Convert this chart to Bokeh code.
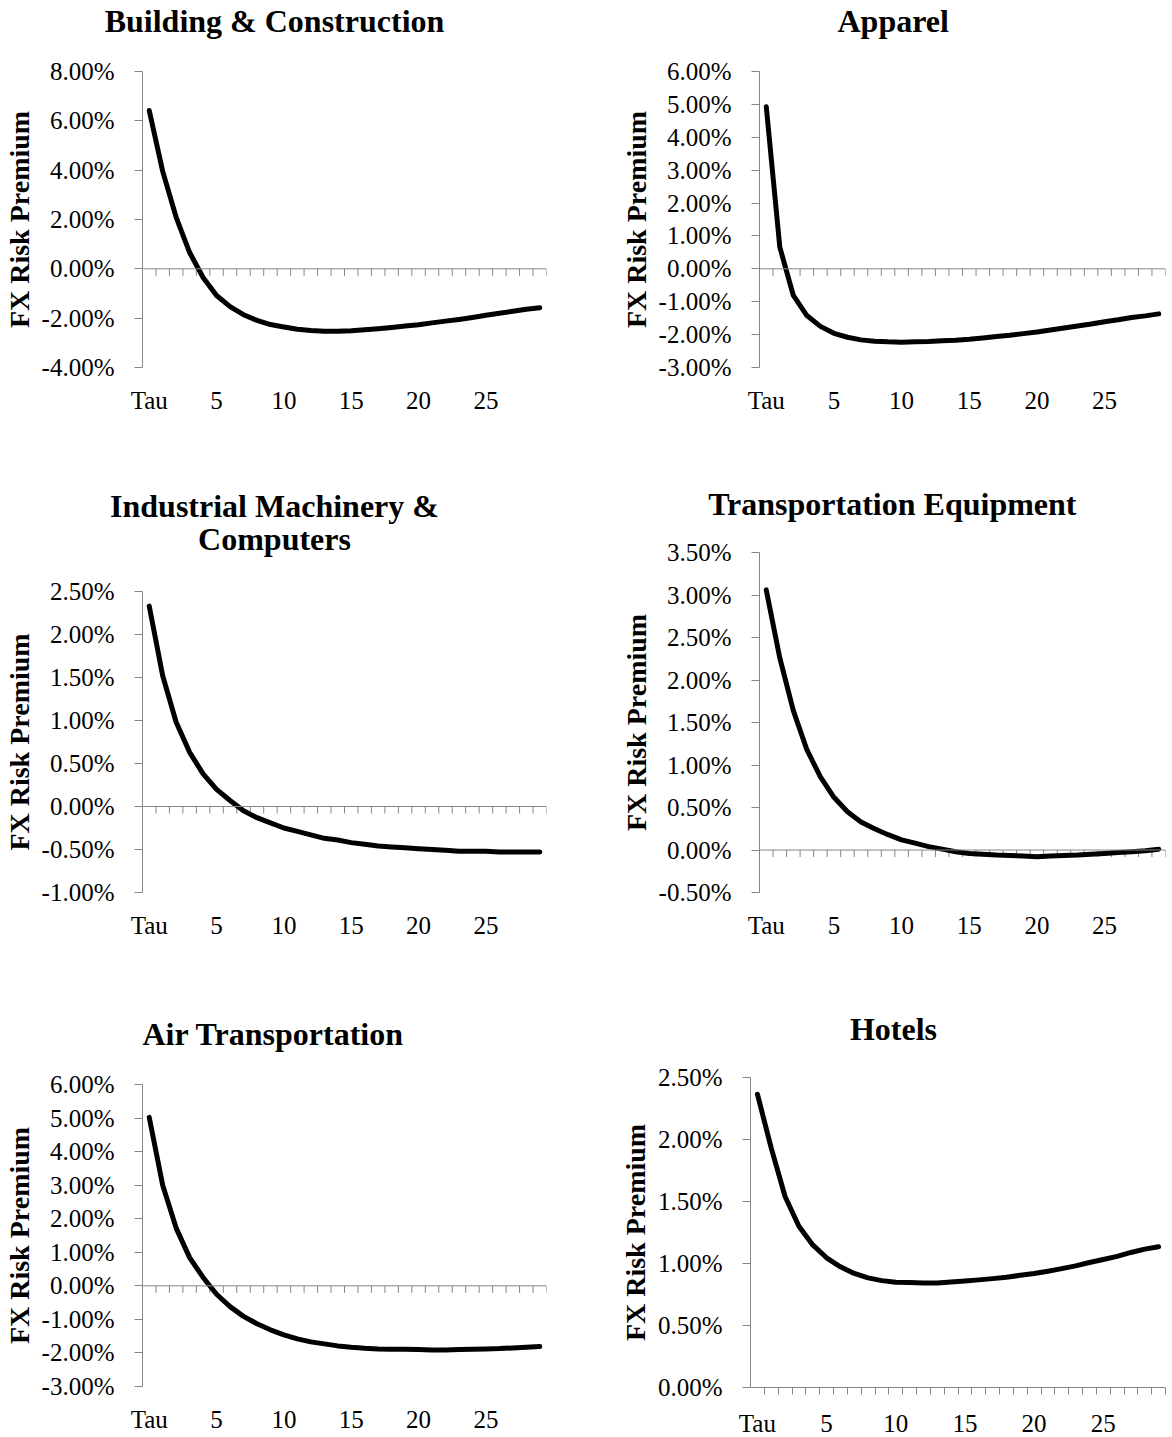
from bokeh.plotting import figure
from bokeh.models import Range1d, FixedTicker, PrintfTickFormatter, Span, Title
from bokeh.layouts import column, row
from bokeh.embed import file_html
from bokeh.resources import INLINE

# ---------------- data (FX risk premium, in %) ----------------
tau_labels = ["Tau"] + [str(i) for i in range(1, 30)]
label_positions = [0, 5, 10, 15, 20, 25]

building = [6.42, 3.95, 2.09, 0.66, -0.35, -1.08, -1.53, -1.86, -2.09, -2.26,
            -2.36, -2.45, -2.50, -2.53, -2.53, -2.51, -2.47, -2.43, -2.38, -2.32,
            -2.27, -2.19, -2.12, -2.05, -1.97, -1.88, -1.80, -1.72, -1.64, -1.58]
apparel = [4.93, 0.66, -0.81, -1.42, -1.75, -1.96, -2.08, -2.16, -2.20, -2.22,
           -2.23, -2.22, -2.21, -2.19, -2.17, -2.14, -2.10, -2.06, -2.02, -1.97,
           -1.92, -1.86, -1.80, -1.74, -1.68, -1.61, -1.55, -1.48, -1.43, -1.37]
industrial = [2.33, 1.52, 0.98, 0.63, 0.38, 0.20, 0.07, -0.05, -0.13, -0.19,
              -0.25, -0.29, -0.33, -0.37, -0.39, -0.42, -0.44, -0.46, -0.47, -0.48,
              -0.49, -0.50, -0.51, -0.52, -0.52, -0.52, -0.53, -0.53, -0.53, -0.53]
transport = [3.06, 2.26, 1.64, 1.18, 0.86, 0.62, 0.45, 0.33, 0.25, 0.18,
             0.12, 0.08, 0.04, 0.01, -0.02, -0.04, -0.05, -0.06, -0.065, -0.07,
             -0.08, -0.07, -0.065, -0.06, -0.05, -0.04, -0.03, -0.02, -0.01, 0.01]
air = [5.02, 3.00, 1.72, 0.84, 0.25, -0.25, -0.62, -0.91, -1.13, -1.31,
       -1.46, -1.58, -1.67, -1.73, -1.79, -1.83, -1.86, -1.88, -1.89, -1.89,
       -1.90, -1.91, -1.91, -1.90, -1.89, -1.88, -1.87, -1.85, -1.83, -1.81]
hotels = [2.365, 1.93, 1.54, 1.30, 1.15, 1.046, 0.973, 0.92, 0.884, 0.862,
          0.849, 0.846, 0.843, 0.843, 0.851, 0.859, 0.868, 0.878, 0.889, 0.905,
          0.919, 0.938, 0.959, 0.981, 1.008, 1.032, 1.057, 1.089, 1.116, 1.135]

yticks_building = [-4, -2, 0, 2, 4, 6, 8]
yticks_apparel = [-3, -2, -1, 0, 1, 2, 3, 4, 5, 6]
yticks_industrial = [-1.0, -0.5, 0.0, 0.5, 1.0, 1.5, 2.0, 2.5]
yticks_transport = [-0.5, 0.0, 0.5, 1.0, 1.5, 2.0, 2.5, 3.0, 3.5]
yticks_air = [-3, -2, -1, 0, 1, 2, 3, 4, 5, 6]
yticks_hotels = [0.0, 0.5, 1.0, 1.5, 2.0, 2.5]

y_title = "FX Risk Premium"

# ---------------- style ----------------
FONT = "Liberation Serif"
GRAY = "#868686"
TITLE_SIZE = 32
TICK_SIZE = 25
YLAB_SIZE = 28
TICK_LEN = 7

BOLD_W = {'B': .667, 'u': .556, 'i': .278, 'l': .278, 'd': .556, 'n': .556, 'g': .5,
          ' ': .25, '&': .833, 'C': .722, 'o': .5, 's': .389, 't': .333, 'r': .444,
          'c': .444, 'A': .722, 'p': .556, 'a': .5, 'e': .444, 'I': .389, 'M': .944,
          'h': .556, 'y': .5, 'm': .833, 'T': .667, 'q': .556, 'E': .667, 'H': .778}


def text_width(s, size):
    return sum(BOLD_W.get(ch, 0.5) for ch in s) * size


def make_panel(title_lines, values, yticks, frame_w, frame_h, bl, br, bt, bb,
               title_center, standoffs, spacer=None):
    n = len(values)
    xs = list(range(n))
    ymin, ymax = yticks[0], yticks[-1]
    p = figure(frame_width=frame_w, frame_height=frame_h, title=None,
               x_range=Range1d(-0.5, n - 0.5), y_range=Range1d(ymin, ymax),
               output_backend="svg", toolbar_location=None, tools="",
               min_border_left=bl, min_border_right=br,
               min_border_top=bt, min_border_bottom=bb)
    p.frame_align = False
    p.outline_line_color = None
    p.xgrid.visible = False
    p.ygrid.visible = False
    p.background_fill_color = "white"
    p.border_fill_color = "white"

    # optional invisible spacer between frame and title
    if spacer is not None:
        p.add_layout(Title(text=" ", text_font_size="1px", standoff=spacer,
                           text_color="white"), "above")
    # titles: nearest to frame first
    for text, so in zip(reversed(title_lines), reversed(standoffs)):
        w = text_width(text, TITLE_SIZE)
        t = Title(text=text, align="left", offset=title_center - w / 2, standoff=so,
                  text_font=FONT, text_font_size=f"{TITLE_SIZE}px",
                  text_font_style="bold", text_color="black")
        p.add_layout(t, "above")

    # y axis
    ya = p.yaxis[0]
    ya.ticker = FixedTicker(ticks=yticks)
    ya.formatter = PrintfTickFormatter(format="%.2f%%")
    ya.major_label_text_font = FONT
    ya.major_label_text_font_size = f"{TICK_SIZE}px"
    ya.major_label_text_color = "black"
    ya.major_label_standoff = 20
    ya.major_tick_out = 8
    ya.major_tick_in = 0
    ya.major_tick_line_color = GRAY
    ya.minor_tick_line_color = None
    ya.axis_line_color = GRAY
    ya.axis_label = y_title
    ya.axis_label_text_font = FONT
    ya.axis_label_text_font_style = "bold"
    ya.axis_label_text_font_size = f"{YLAB_SIZE}px"
    ya.axis_label_text_color = "black"
    ya.axis_label_standoff = 4

    # x axis (category labels every 5)
    xa = p.xaxis[0]
    bounds = [i - 0.5 for i in range(1, n + 1)]
    xa.ticker = FixedTicker(ticks=label_positions, minor_ticks=bounds)
    xa.major_label_overrides = {i: tau_labels[i] for i in label_positions}
    xa.major_label_text_font = FONT
    xa.major_label_text_font_size = f"{TICK_SIZE}px"
    xa.major_label_text_color = "black"
    xa.major_label_standoff = 15
    xa.major_tick_line_color = None
    xa.major_tick_out = 0
    xa.major_tick_in = 0

    if ymin < 0:
        xa.axis_line_color = None
        xa.minor_tick_line_color = None
        p.add_layout(Span(location=0, dimension="width", line_color=GRAY, line_width=1))
        tl = TICK_LEN * (ymax - ymin) / frame_h
        p.segment(x0=bounds, y0=[0] * len(bounds), x1=bounds, y1=[-tl] * len(bounds),
                  line_color=GRAY, line_width=1)
    else:
        xa.axis_line_color = GRAY
        xa.minor_tick_line_color = GRAY
        xa.minor_tick_out = TICK_LEN
        xa.minor_tick_in = 0

    p.line(xs, values, line_color="black", line_width=5,
           line_join="round", line_cap="round")
    return p


p1 = make_panel(["Building & Construction"], building, yticks_building,
                404, 296, 140, 41, 71, 72, 277 - 145, [0], spacer=30)
p2 = make_panel(["Apparel"], apparel, yticks_apparel,
                406, 296, 172, 2, 71, 72, 896 - 762, [0], spacer=30)
p3 = make_panel(["Industrial Machinery &", "Computers"], industrial, yticks_industrial,
                404, 301, 140, 41, 152, 72, 277 - 145, [-10, 0], spacer=32)
p4 = make_panel(["Transportation Equipment"], transport, yticks_transport,
                406, 340, 172, 2, 113, 72, 896 - 762, [62])
p5 = make_panel(["Air Transportation"], air, yticks_air,
                404, 302, 140, 41, 120, 10, 277 - 145, [66])
p6 = make_panel(["Hotels"], hotels, yticks_hotels,
                415, 310, 163, 2, 113, 10, 896 - 753, [62])

layout = column(row(p1, p2), row(p3, p4), row(p5, p6))

open("out.html", "w").write(file_html(layout, INLINE))
